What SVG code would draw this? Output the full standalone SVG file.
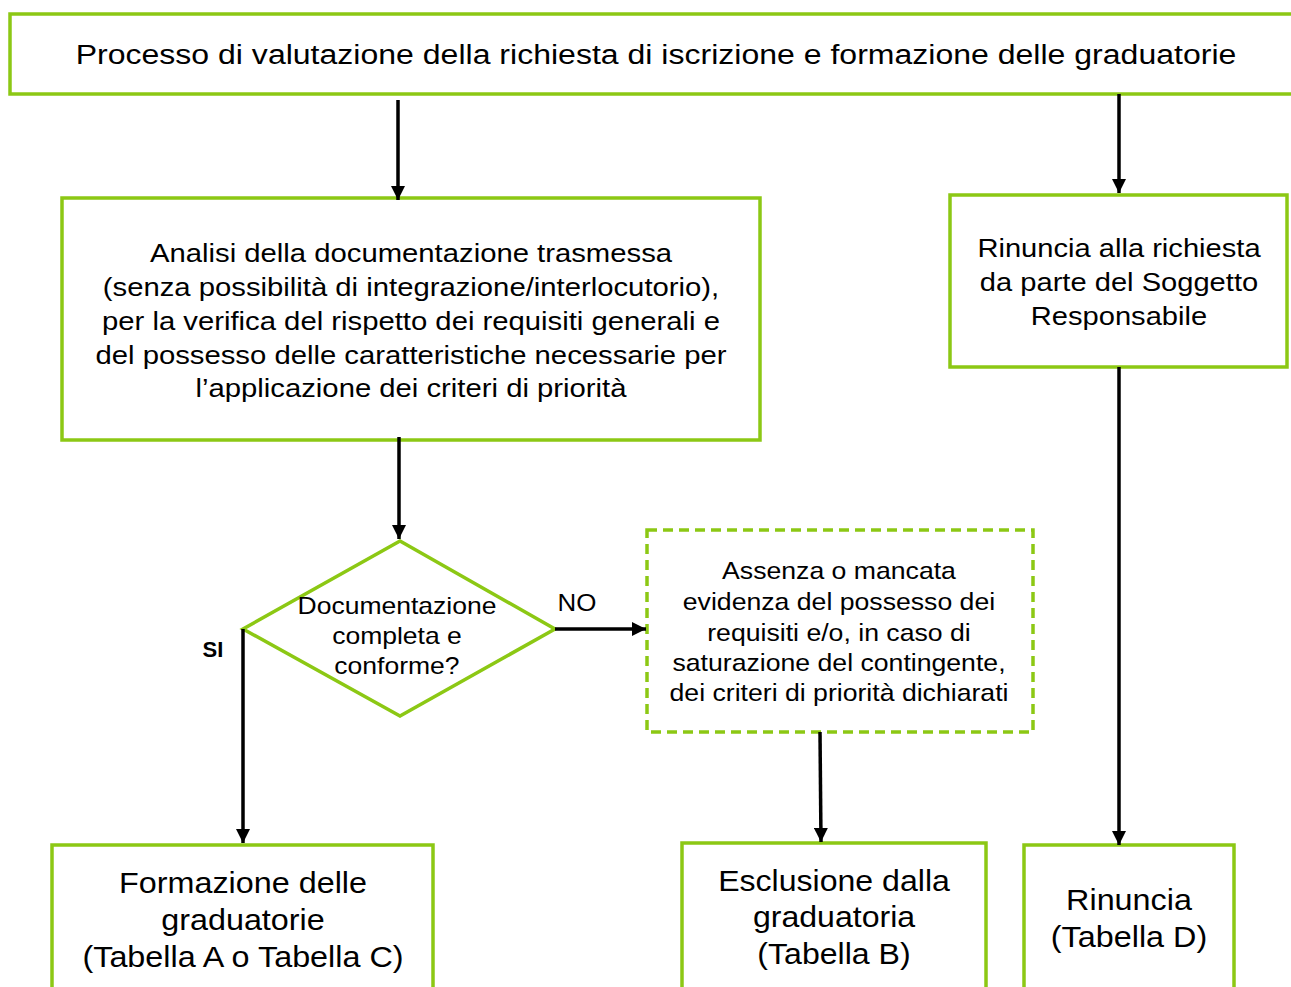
<svg xmlns="http://www.w3.org/2000/svg" width="1291" height="987" viewBox="0 0 1291 987">
<style>
.box{fill:#fff;stroke:#8cc814;stroke-width:3.5}
.dash{fill:#fff;stroke:#8cc814;stroke-width:3.5;stroke-dasharray:10,6}
.t{font-family:"Liberation Sans",Arial,sans-serif;fill:#000;text-anchor:middle;dominant-baseline:central}
.con{stroke:#000;stroke-width:3.5;fill:none}
</style>
<defs>
<marker id="ah" viewBox="0 0 10 10" refX="10" refY="5" markerWidth="4" markerHeight="4" markerUnits="strokeWidth" orient="auto">
<path d="M0,0 L10,5 L0,10 Z" fill="#000"/>
</marker>
</defs>
<rect width="1291" height="987" fill="#fff"/>
<g id="top">
<rect class="box" x="10" y="14" width="1290" height="80"/>
<text class="t" transform="translate(656 0) scale(1.144 1) translate(-656 0)" x="656" y="54" font-size="28">Processo di valutazione della richiesta di iscrizione e formazione delle graduatorie</text>
</g>
<g id="analisi">
<rect class="box" x="62" y="198" width="698" height="242"/>
<text class="t" transform="translate(411 0) scale(1.126 1) translate(-411 0)" font-size="26"><tspan x="411" y="253">Analisi della documentazione trasmessa</tspan><tspan x="411" y="287">(senza possibilità di integrazione/interlocutorio),</tspan><tspan x="411" y="321">per la verifica del rispetto dei requisiti generali e</tspan><tspan x="411" y="355">del possesso delle caratteristiche necessarie per</tspan><tspan x="411" y="388">l’applicazione dei criteri di priorità</tspan></text>
</g>
<g id="rinuncia-richiesta">
<rect class="box" x="950" y="195" width="337" height="172"/>
<text class="t" transform="translate(1119 0) scale(1.12 1) translate(-1119 0)" font-size="26"><tspan x="1119" y="248">Rinuncia alla richiesta</tspan><tspan x="1119" y="282">da parte del Soggetto</tspan><tspan x="1119" y="316">Responsabile</tspan></text>
</g>
<g id="decisione">
<polygon class="box" points="400,541 555,629 400,716 243,629"/>
<text class="t" transform="translate(397 0) scale(1.105 1) translate(-397 0)" font-size="24"><tspan x="397" y="605">Documentazione</tspan><tspan x="397" y="635">completa e</tspan><tspan x="397" y="665">conforme?</tspan></text>
</g>
<g id="assenza">
<rect class="dash" x="647" y="530" width="386" height="202"/>
<text class="t" transform="translate(839 0) scale(1.11 1) translate(-839 0)" font-size="24"><tspan x="839" y="570">Assenza o mancata</tspan><tspan x="839" y="601">evidenza del possesso dei</tspan><tspan x="839" y="632">requisiti e/o, in caso di</tspan><tspan x="839" y="662">saturazione del contingente,</tspan><tspan x="839" y="692">dei criteri di priorità dichiarati</tspan></text>
</g>
<g id="formazione">
<rect class="box" x="52" y="845" width="381" height="160"/>
<text class="t" transform="translate(243 0) scale(1.115 1) translate(-243 0)" font-size="29"><tspan x="243" y="883">Formazione delle</tspan><tspan x="243" y="920">graduatorie</tspan><tspan x="243" y="957">(Tabella A o Tabella C)</tspan></text>
</g>
<g id="esclusione">
<rect class="box" x="682" y="843" width="304" height="160"/>
<text class="t" transform="translate(834 0) scale(1.106 1) translate(-834 0)" font-size="29"><tspan x="834" y="881">Esclusione dalla</tspan><tspan x="834" y="917">graduatoria</tspan><tspan x="834" y="954">(Tabella B)</tspan></text>
</g>
<g id="rinuncia">
<rect class="box" x="1024" y="845" width="210" height="160"/>
<text class="t" transform="translate(1129 0) scale(1.115 1) translate(-1129 0)" font-size="29"><tspan x="1129" y="900">Rinuncia</tspan><tspan x="1129" y="937">(Tabella D)</tspan></text>
</g>
<g id="connectors">
<line class="con" x1="398" y1="100" x2="398" y2="200" marker-end="url(#ah)"/>
<line class="con" x1="1119" y1="94" x2="1119" y2="193" marker-end="url(#ah)"/>
<line class="con" x1="399" y1="437" x2="399" y2="539" marker-end="url(#ah)"/>
<line class="con" x1="243" y1="629" x2="243" y2="843" marker-end="url(#ah)"/>
<line class="con" x1="555" y1="629" x2="646" y2="629" marker-end="url(#ah)"/>
<line class="con" x1="820" y1="732" x2="821" y2="842" marker-end="url(#ah)"/>
<line class="con" x1="1119" y1="367" x2="1119" y2="845" marker-end="url(#ah)"/>
<text class="t" transform="translate(577 0) scale(1.08 1) translate(-577 0)" x="577" y="602" font-size="24">NO</text>
<text class="t" x="213" y="649" font-size="22" font-weight="bold">SI</text>
</g>
</svg>
